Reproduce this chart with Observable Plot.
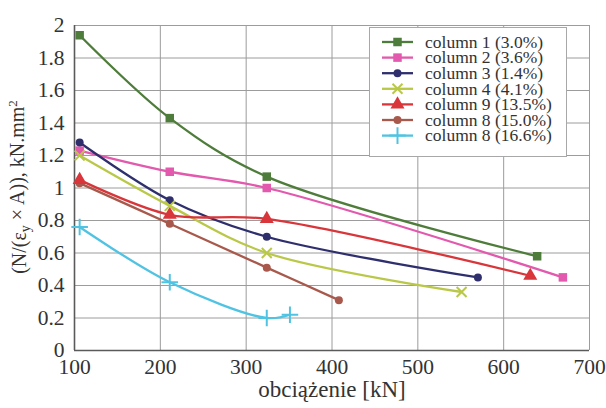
<!DOCTYPE html>
<html>
<head>
<meta charset="utf-8">
<script src="https://cdn.jsdelivr.net/npm/d3@7"></script>
<script src="https://cdn.jsdelivr.net/npm/@observablehq/plot@0.6"></script>
<style>
  body { margin: 0; background: #fff; }
</style>
</head>
<body>
<div id="chart"></div>
<script>
// Series names, as shown in the legend
const seriesLabels = [
  "column 1 (3.0%)",
  "column 2 (3.6%)",
  "column 3 (1.4%)",
  "column 4 (4.1%)",
  "column 9 (13.5%)",
  "column 8 (15.0%)",
  "column 8 (16.6%)"
];

// Load levels [kN] for each series
const loadKN = [
  [106, 211, 324, 639],
  [106, 211, 324, 669],
  [106, 211, 324, 570],
  [106, 211, 324, 551],
  [106, 211, 324, 631],
  [106, 211, 324, 408],
  [106, 211, 324, 351]
];

// N/(eps_y x A) [kN.mm^2] for each series
const stiffness = [
  [1.94, 1.43, 1.07, 0.58],
  [1.23, 1.10, 1.00, 0.45],
  [1.28, 0.925, 0.70, 0.45],
  [1.20, 0.89, 0.60, 0.36],
  [1.05, 0.835, 0.81, 0.46],
  [1.03, 0.78, 0.51, 0.31],
  [0.76, 0.42, 0.20, 0.22]
];

const xTicks = [100, 200, 300, 400, 500, 600, 700];
const yTicks = [0, 0.2, 0.4, 0.6, 0.8, 1, 1.2, 1.4, 1.6, 1.8, 2];

// Appearance
const seriesColors = ["#4e7c3a", "#e259ad", "#2f2f6e", "#bac848", "#d8363a", "#a8594c", "#50c3e2"];
const seriesSymbols = ["square", "square", "circle", "times", "triangle", "circle", "plus"];
const symbolRadius = { square: 4.8, circle: 4.0, triangle: 5.2, times: 4.6, plus: 5.4 };
const strokeSymbols = new Set(["times", "plus"]);
const serif = "'Liberation Serif', 'Times New Roman', serif";
// Smoothed lines: centripetal Catmull-Rom spline through the measured points
const smooth = d3.curveCatmullRom.alpha(0.5);

const rows = seriesLabels.flatMap((s, i) =>
  loadKN[i].map((x, j) => ({ series: s, symbol: seriesSymbols[i], load: x, value: stiffness[i][j] }))
);

// One dot mark per marker shape so each can have its own size and paint
const dotMarks = Object.keys(symbolRadius).map(sym => {
  const subset = rows.filter(d => d.symbol === sym);
  const paint = strokeSymbols.has(sym)
    ? { stroke: "series", strokeWidth: 2, fill: "none" }
    : { fill: "series", stroke: "none" };
  return Plot.dot(subset, { x: "load", y: "value", symbol: "series", r: symbolRadius[sym], ...paint });
});

const chart = Plot.plot({
  width: 606,
  height: 408,
  marginLeft: 74,
  marginRight: 17,
  marginTop: 25,
  marginBottom: 58,
  style: { fontFamily: serif, fontSize: "21.5px", background: "#fff", color: "#333" },
  x: { domain: [100, 700], ticks: xTicks, tickSize: 0, tickPadding: 8, label: null },
  y: { domain: [0, 2], ticks: yTicks, tickSize: 0, tickPadding: 10, tickFormat: d3.format("~g"), label: null },
  color: { domain: seriesLabels, range: seriesColors },
  symbol: { domain: seriesLabels, range: seriesSymbols },
  marks: [
    Plot.gridX(xTicks, { stroke: "#9c9c9c", strokeOpacity: 1 }),
    Plot.gridY(yTicks, { stroke: "#9c9c9c", strokeOpacity: 1 }),
    Plot.ruleX([100], { stroke: "#5a5a5a", strokeWidth: 1.6 }),
    Plot.ruleY([0], { stroke: "#5a5a5a", strokeWidth: 1.6 }),
    Plot.line(rows, { x: "load", y: "value", z: "series", stroke: "series", curve: smooth, strokeWidth: 2.3 }),
    ...dotMarks,
    Plot.text(["obciążenie [kN]"], { frameAnchor: "bottom", dy: 46, fontSize: 23, fill: "#333" })
  ]
});

const svg = d3.select(chart);

// Y-axis title with subscript and superscript
const yTitle = svg.append("text")
  .attr("transform", "translate(19,187) rotate(-90)")
  .attr("text-anchor", "middle")
  .attr("dy", "0.35em")
  .attr("fill", "#333")
  .style("font-family", serif)
  .style("font-size", "20px");
yTitle.append("tspan").text("(N/(ε");
yTitle.append("tspan").attr("dy", "0.3em").style("font-size", "14px").text("y");
yTitle.append("tspan").attr("dy", "-0.3em").text(" × A)), kN.mm");
yTitle.append("tspan").attr("dy", "-0.55em").style("font-size", "13px").text("2");

// Legend box
const legend = svg.append("g")
  .attr("text-anchor", "start")
  .style("font-family", serif)
  .style("font-size", "17.5px");
legend.append("rect")
  .attr("x", 369.5).attr("y", 27.5).attr("width", 197).attr("height", 129)
  .attr("fill", "#fff").attr("stroke", "#a8a8a8");
const d3Symbols = {
  square: d3.symbolSquare, circle: d3.symbolCircle, triangle: d3.symbolTriangle,
  times: d3.symbolTimes, plus: d3.symbolPlus
};
seriesLabels.forEach((label, i) => {
  const y = 42 + i * 15.6;
  const sym = seriesSymbols[i];
  const color = seriesColors[i];
  const r = symbolRadius[sym];
  legend.append("line")
    .attr("x1", 382).attr("x2", 413).attr("y1", y).attr("y2", y)
    .attr("stroke", color).attr("stroke-width", 2.3);
  legend.append("path")
    .attr("transform", `translate(397.5,${y})`)
    .attr("d", d3.symbol(d3Symbols[sym], Math.PI * r * r)())
    .attr("fill", strokeSymbols.has(sym) ? "none" : color)
    .attr("stroke", strokeSymbols.has(sym) ? color : "none")
    .attr("stroke-width", 2);
  legend.append("text")
    .attr("x", 425).attr("y", y).attr("dy", "0.33em")
    .attr("fill", "#333")
    .text(label);
});

document.getElementById("chart").appendChild(chart);
</script>
</body>
</html>
